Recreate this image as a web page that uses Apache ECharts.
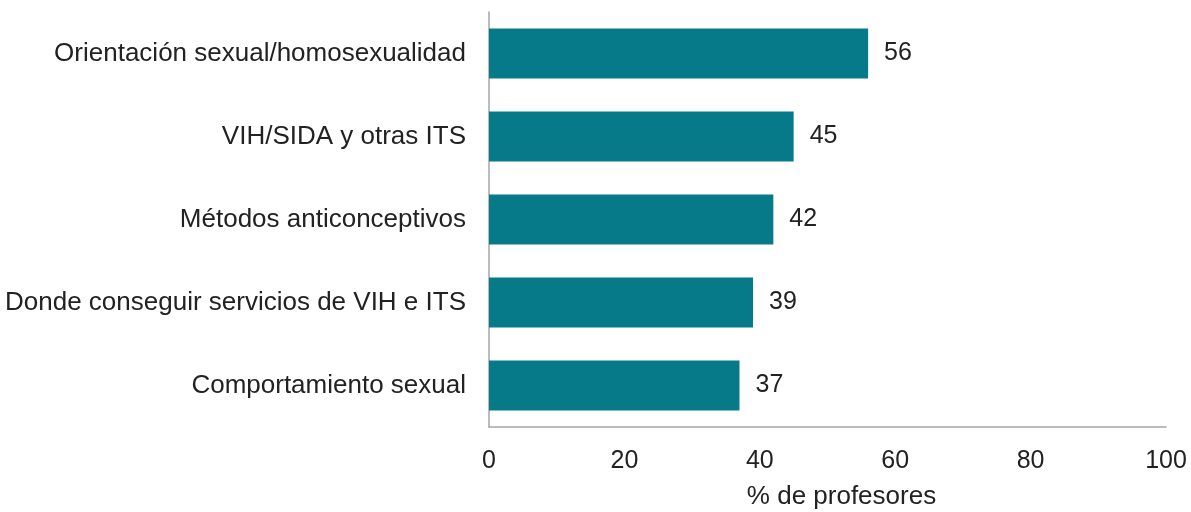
<!DOCTYPE html>
<html>
<head>
<meta charset="utf-8">
<style>
  html, body { margin: 0; padding: 0; background: #fff; }
  #chart { width: 1191px; height: 512px; }
</style>
<script src="https://cdn.jsdelivr.net/npm/echarts@6/dist/echarts.min.js"></script>
</head>
<body>
<div id="chart"></div>
<script>
const categories = [
  'Orientación sexual/homosexualidad',
  'VIH/SIDA y otras ITS',
  'Métodos anticonceptivos',
  'Donde conseguir servicios de VIH e ITS',
  'Comportamiento sexual',
];
const values = [56, 45, 42, 39, 37];
const xTicks = [0, 20, 40, 60, 80, 100];

const font = 'Liberation Sans, Arial, sans-serif';
const chart = echarts.init(document.getElementById('chart'), null, { renderer: 'canvas' });
chart.setOption({
  animation: false,
  grid: { left: 489, right: 25, top: 12, bottom: 85, containLabel: false, outerBoundsMode: 'none' },
  xAxis: {
    type: 'value',
    min: xTicks[0],
    max: xTicks[xTicks.length - 1],
    interval: 20,
    name: '% de profesores',
    nameLocation: 'middle',
    nameGap: 57,
    nameTextStyle: { fontFamily: font, fontSize: 26, color: '#222', padding: [0, 0, 0, 28] },
    axisLine: { show: true, lineStyle: { color: '#a6a6a6', width: 1.5 } },
    axisTick: { show: false },
    splitLine: { show: false },
    axisLabel: { fontFamily: font, fontSize: 25, color: '#222', margin: 22 },
  },
  yAxis: {
    type: 'category',
    data: categories,
    inverse: true,
    axisLine: { show: true, lineStyle: { color: '#a6a6a6', width: 1.5 } },
    axisTick: { show: false },
    axisLabel: { fontFamily: font, fontSize: 26, color: '#222', margin: 23 },
  },
  series: [{
    type: 'bar',
    data: values,
    barCategoryGap: '40%',
    itemStyle: { color: '#077a8a' },
    label: {
      show: true,
      position: 'right',
      distance: 16,
      fontFamily: font,
      fontSize: 25,
      color: '#222',
    },
  }],
});
</script>
</body>
</html>
